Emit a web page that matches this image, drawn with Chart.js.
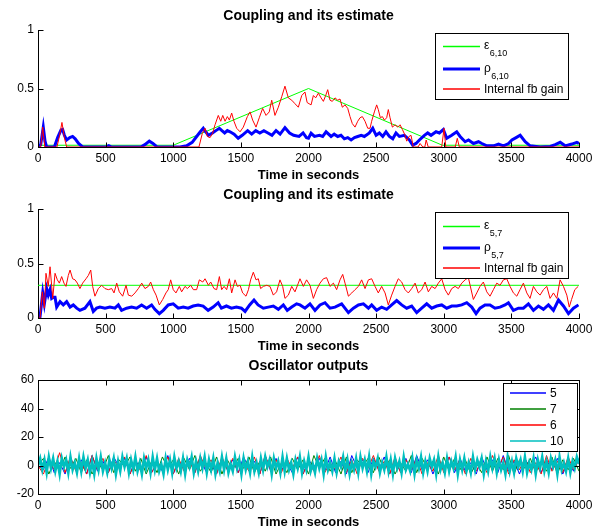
<!DOCTYPE html>
<html>
<head>
<meta charset="utf-8">
<script src="https://cdn.jsdelivr.net/npm/chart.js@4/dist/chart.umd.min.js"></script>
<style>
body { margin:0; background:#fff; overflow:hidden; }
#wrap { position:relative; width:600px; height:531px; }
#wrap canvas { position:absolute; left:0; top:0; }
</style>
</head>
<body>
<div id="wrap">
<canvas id="plot1" width="600" height="531"></canvas>
<canvas id="plot2" width="600" height="531"></canvas>
<canvas id="plot3" width="600" height="531"></canvas>
</div>
<script>
// tick values
var timeTicks = [0, 500, 1000, 1500, 2000, 2500, 3000, 3500, 4000];
var couplingTicks = [0, 0.5, 1];
var outputTicks = [-20, 0, 20, 40, 60];

// plot 1 : coupling 6 -> 10, [time, value]
var eps610 = [[0,0.015],[1000,0.015],[2000,0.5],[2990,0.015],[4000,0.015]];
var rho610 = [[0,0],[20,0.02],[39,0.17],[52,0.05],[64,0],[121,0],[145,0.08],[170,0.145],[182,0.15],[195,0.1],[212,0.06],[235,0.08],[256,0.09],[275,0.07],[300,0.03],[330,0],[500,0],[523,0.012],[545,0],[760,0],[790,0.02],[823,0.05],[850,0.03],[880,0],[1050,0],[1099,0.01],[1140,0.04],[1173,0.09],[1200,0.13],[1222,0.16],[1240,0.13],[1260,0.10],[1290,0.12],[1315,0.14],[1341,0.16],[1360,0.14],[1380,0.12],[1400,0.14],[1420,0.13],[1450,0.11],[1480,0.075],[1510,0.10],[1550,0.14],[1580,0.11],[1610,0.14],[1640,0.12],[1670,0.14],[1700,0.12],[1730,0.10],[1760,0.14],[1790,0.11],[1826,0.165],[1860,0.12],[1890,0.10],[1930,0.09],[1960,0.12],[1985,0.08],[2000,0.075],[2019,0.117],[2044,0.09],[2081,0.10],[2105,0.09],[2130,0.13],[2167,0.09],[2190,0.11],[2216,0.09],[2240,0.1],[2265,0.07],[2290,0.08],[2315,0.06],[2340,0.08],[2364,0.09],[2390,0.1],[2413,0.09],[2450,0.12],[2475,0.16],[2500,0.10],[2524,0.12],[2549,0.09],[2573,0.13],[2598,0.09],[2623,0.07],[2647,0.12],[2672,0.09],[2709,0.10],[2746,0.06],[2770,0.017],[2795,0.03],[2820,0.06],[2857,0.10],[2881,0.12],[2906,0.10],[2943,0.13],[2968,0.12],[2997,0.15],[3022,0.074],[3059,0.10],[3096,0.13],[3121,0.09],[3158,0.045],[3183,0.06],[3220,0.03],[3257,0.045],[3282,0.03],[3319,0.01],[3368,0.01],[3405,0.025],[3442,0.01],[3479,0.03],[3504,0.06],[3535,0.08],[3565,0.10],[3602,0.045],[3639,0.01],[3713,0],[3787,0.005],[3824,0.02],[3861,0.04],[3898,0.01],[3947,0.025],[3984,0.04],[4000,0.03]];
var gain610 = [[0,0],[20,0],[35,0.17],[50,0],[140,0],[160,0.1],[177,0.21],[195,0.08],[212,0],[1190,0],[1215,0.117],[1235,0.16],[1252,0.09],[1272,0.08],[1291,0.117],[1309,0.19],[1333,0.27],[1351,0.22],[1366,0.27],[1383,0.22],[1400,0.26],[1415,0.23],[1432,0.29],[1449,0.22],[1469,0.16],[1494,0.13],[1518,0.17],[1548,0.26],[1568,0.30],[1587,0.23],[1612,0.17],[1636,0.25],[1661,0.33],[1686,0.27],[1710,0.30],[1728,0.40],[1752,0.27],[1777,0.34],[1802,0.43],[1826,0.52],[1851,0.42],[1876,0.40],[1900,0.37],[1925,0.34],[1950,0.44],[1974,0.47],[1990,0.38],[2004,0.37],[2019,0.36],[2036,0.44],[2053,0.42],[2073,0.46],[2093,0.42],[2110,0.39],[2127,0.44],[2142,0.49],[2159,0.40],[2176,0.39],[2196,0.42],[2216,0.40],[2233,0.41],[2250,0.34],[2270,0.36],[2290,0.33],[2307,0.26],[2324,0.20],[2344,0.17],[2364,0.22],[2381,0.25],[2398,0.26],[2418,0.22],[2438,0.16],[2455,0.16],[2467,0.22],[2487,0.30],[2504,0.36],[2516,0.32],[2531,0.25],[2546,0.26],[2561,0.23],[2578,0.25],[2590,0.32],[2603,0.25],[2620,0.17],[2640,0.19],[2660,0.17],[2677,0.19],[2694,0.15],[2714,0.10],[2726,0.05],[2743,0.09],[2758,0.10],[2775,0],[2810,0],[2825,0.03],[2845,0],[2860,0],[2870,0.06],[2885,0],[2985,0],[3002,0.16],[3015,0],[3085,0],[3100,0.074],[3115,0],[4000,0]];

// plot 2 : coupling 5 -> 7
var eps57 = [[0,0.3],[4000,0.3]];
var rho57 = [[0,0],[15,0.01],[35,0.23],[47,0.13],[64,0.27],[76,0.21],[89,0.26],[101,0.18],[113,0.19],[126,0.19],[138,0.10],[163,0.15],[187,0.12],[212,0.15],[237,0.10],[261,0.12],[286,0.09],[310,0.07],[347,0.09],[384,0.15],[409,0.06],[433,0.09],[458,0.10],[495,0.09],[532,0.10],[569,0.09],[594,0.12],[618,0.07],[655,0.09],[692,0.10],[729,0.09],[766,0.12],[803,0.09],[840,0.12],[864,0.08],[897,0.04],[926,0.07],[963,0.12],[1000,0.13],[1037,0.09],[1074,0.10],[1110,0.09],[1147,0.11],[1184,0.12],[1221,0.11],[1258,0.07],[1295,0.10],[1332,0.14],[1356,0.09],[1393,0.11],[1430,0.09],[1467,0.10],[1504,0.09],[1531,0.06],[1565,0.12],[1597,0.165],[1627,0.12],[1666,0.09],[1703,0.10],[1740,0.11],[1777,0.08],[1814,0.12],[1843,0.07],[1876,0.10],[1912,0.13],[1937,0.12],[1974,0.09],[2011,0.13],[2048,0.07],[2085,0.12],[2122,0.14],[2159,0.09],[2196,0.10],[2245,0.13],[2295,0.05],[2332,0.09],[2369,0.12],[2406,0.13],[2443,0.09],[2467,0.12],[2504,0.07],[2541,0.10],[2578,0.08],[2615,0.12],[2652,0.16],[2689,0.12],[2726,0.09],[2763,0.11],[2800,0.05],[2837,0.09],[2874,0.13],[2911,0.09],[2948,0.11],[2985,0.12],[3022,0.09],[3059,0.11],[3096,0.11],[3133,0.12],[3170,0.14],[3207,0.10],[3239,0.04],[3268,0.09],[3305,0.12],[3342,0.12],[3379,0.09],[3416,0.10],[3453,0.12],[3478,0.14],[3515,0.07],[3552,0.09],[3589,0.09],[3626,0.13],[3663,0.07],[3700,0.11],[3737,0.08],[3774,0.12],[3811,0.07],[3848,0.165],[3885,0.11],[3922,0.04],[3959,0.09],[3996,0.12]];
var gain57 = [[0,0],[15,0],[32,0.24],[47,0.09],[59,0.41],[76,0.29],[89,0.47],[109,0.18],[126,0.41],[143,0.35],[158,0.32],[175,0.38],[192,0.32],[207,0.29],[224,0.39],[237,0.44],[256,0.36],[274,0.35],[291,0.32],[310,0.27],[330,0.32],[355,0.36],[372,0.39],[390,0.44],[404,0.29],[421,0.20],[446,0.27],[471,0.30],[495,0.27],[520,0.26],[545,0.27],[562,0.23],[582,0.32],[601,0.24],[626,0.20],[651,0.30],[668,0.21],[693,0.20],[717,0.23],[742,0.27],[767,0.32],[791,0.27],[816,0.29],[833,0.33],[853,0.26],[873,0.21],[897,0.12],[922,0.17],[946,0.23],[963,0.26],[981,0.35],[1000,0.26],[1020,0.23],[1045,0.29],[1062,0.24],[1087,0.29],[1104,0.27],[1129,0.30],[1149,0.26],[1173,0.26],[1193,0.35],[1218,0.33],[1235,0.36],[1260,0.30],[1277,0.33],[1301,0.27],[1321,0.26],[1341,0.38],[1358,0.26],[1376,0.29],[1395,0.26],[1415,0.36],[1432,0.23],[1457,0.35],[1474,0.29],[1494,0.30],[1513,0.23],[1538,0.20],[1556,0.26],[1572,0.35],[1592,0.42],[1612,0.35],[1629,0.36],[1646,0.27],[1666,0.29],[1691,0.30],[1715,0.29],[1740,0.21],[1764,0.24],[1789,0.35],[1809,0.29],[1826,0.18],[1851,0.21],[1876,0.29],[1900,0.24],[1925,0.32],[1937,0.36],[1962,0.29],[1986,0.35],[2011,0.30],[2036,0.18],[2060,0.26],[2085,0.32],[2110,0.36],[2134,0.37],[2159,0.29],[2184,0.32],[2208,0.26],[2233,0.35],[2253,0.40],[2270,0.32],[2295,0.20],[2320,0.23],[2344,0.26],[2369,0.29],[2393,0.35],[2418,0.27],[2443,0.35],[2467,0.36],[2492,0.29],[2516,0.23],[2541,0.29],[2566,0.23],[2590,0.12],[2615,0.21],[2640,0.29],[2664,0.36],[2689,0.33],[2714,0.26],[2738,0.23],[2763,0.27],[2788,0.32],[2812,0.23],[2837,0.26],[2862,0.33],[2886,0.24],[2911,0.29],[2936,0.27],[2960,0.32],[2985,0.36],[3010,0.26],[3034,0.21],[3059,0.27],[3084,0.29],[3108,0.27],[3133,0.32],[3158,0.35],[3182,0.37],[3195,0.30],[3219,0.17],[3244,0.23],[3268,0.29],[3293,0.33],[3318,0.24],[3342,0.20],[3367,0.26],[3392,0.32],[3416,0.30],[3441,0.35],[3466,0.36],[3490,0.29],[3515,0.23],[3540,0.20],[3564,0.26],[3589,0.32],[3614,0.23],[3638,0.18],[3663,0.29],[3688,0.24],[3712,0.21],[3737,0.26],[3762,0.29],[3786,0.18],[3811,0.23],[3836,0.18],[3860,0.35],[3885,0.29],[3910,0.21],[3928,0.10],[3945,0.17],[3969,0.26],[3994,0.29]];

// plot 3 : oscillator outputs, one sample every oscStep seconds (osc10 every osc10Step)
var oscStep = 40;
var osc10Step = 16;
var osc5 = [0,-3,6,-5,2,-6,5,-2,4,-6,7,-4,3,-5,6,-1,5,-6,4,-3,
  6,-5,2,-4,7,-6,3,-2,5,-5,6,-4,1,-6,5,-3,4,-5,6,-2,
  3,-6,7,-4,5,-3,2,-5,6,-6,4,-1,5,-4,6,-5,3,-6,7,-2,
  4,-5,5,-3,6,-6,2,-4,5,-5,7,-3,4,-6,3,-2,6,-5,5,-4,
  2,-6,6,-3,4,-5,7,-4,3,-6,5,-2,6,-5,4,-3,5,-6,3,-4,5];
var osc7 = [0,5,-6,3,-4,6,-2,5,-5,4,-6,2,-3,7,-5,4,-1,6,-4,5,
  -6,3,-5,6,-2,4,-6,5,-3,7,-4,2,-5,6,-6,4,-3,5,-2,6,
  -5,3,-4,6,-6,2,-5,5,-3,4,-6,7,-2,5,-4,3,-6,6,-5,4,
  -1,5,-5,6,-3,4,-6,2,-4,7,-5,5,-2,3,-6,6,-4,5,-3,4,
  -6,2,-5,6,-4,5,-3,7,-6,4,-2,5,-5,3,-4,6,-6,4,-3,5,-4];
var osc6 = [0,-6,4,-3,9,-5,6,-4,2,-6,7,-3,5,-5,4,-2,6,-6,3,-4,
  7,-5,2,-3,6,-6,5,-4,3,-5,7,-2,4,-6,6,-3,5,-5,2,-4,
  6,-6,7,-3,4,-5,5,-2,6,-6,3,-4,7,-5,2,-3,6,-5,4,-6,
  5,-2,7,-4,3,-6,6,-5,4,-3,5,-6,2,-4,7,-5,6,-3,4,-6,
  5,-4,3,-5,7,-2,6,-6,4,-3,5,-5,2,-6,7,-4,3,-5,6,-3,4];
var osc10 = [0,5,-3,4,-5,6,-2,5,-4,3,-6,5,-1,4,-5,6,-3,2,-5,5,-4,6,-2,4,-5,
  3,-6,5,-3,6,-4,2,-5,4,-2,5,-6,3,-4,6,-1,5,-5,4,-3,6,-4,2,-6,5,
  -2,4,-5,6,-3,5,-4,1,-6,5,-3,4,-5,6,-2,3,-4,5,-6,4,-1,6,-5,3,-4,
  5,-2,6,-5,4,-3,5,-6,2,-4,6,-3,5,-5,1,-4,6,-2,4,-6,5,-3,3,-5,6,
  -4,2,-5,5,-3,6,-1,4,-6,5,-2,3,-5,6,-4,5,-3,2,-6,4,-2,6,-5,3,-3,
  6,-4,1,-5,5,-2,4,-6,6,-3,2,-4,5,-5,3,-1,6,-4,4,-6,2,-3,5,-5,6,
  -2,4,-4,6,-6,3,-1,5,-5,2,-3,6,-4,4,-6,5,-2,3,-5,6,-3,1,-4,5,-6,
  4,-2,6,-5,3,-4,5,-1,4,-6,6,-3,2,-5,5,-4,3,-2,6,-6,4,-3,5,-4,2,
  -5,6,-3,4,-1,5,-6,3,-4,6,-2,5,-5,4,-3,2,-6,6,-4,3,-5,5,-1,4,-4,
  6,-5,2,-3,5,-6,4,-2,6,-4,3,-5,5,-1,4,-6,6,-3,2,-4,5,-5,3,-2,6,1];

var FONT = '"Liberation Sans", Arial, Helvetica, sans-serif';
Chart.defaults.font.family = FONT;
Chart.defaults.font.size = 12;
Chart.defaults.color = '#000';
Chart.defaults.animation = false;

function pairsToPoints(pairs) {
  return pairs.map(function(p) { return {x: p[0], y: p[1]}; });
}
function seriesToPoints(values, step) {
  return values.map(function(v, i) { return {x: i * step, y: v}; });
}

// draws ticks pointing inward, the box, the title and the legend like matlab does
var matlabAxes = {
  id: 'matlabAxes',
  afterDraw: function(chart, args, opts) {
    var ctx = chart.ctx;
    var area = chart.chartArea;
    var xs = chart.scales.x, ys = chart.scales.y;
    ctx.save();
    ctx.strokeStyle = '#000';
    ctx.lineWidth = 1;
    ctx.beginPath();
    xs.ticks.forEach(function(t) {
      var px = Math.round(xs.getPixelForValue(t.value)) + 0.5;
      ctx.moveTo(px, area.bottom + 0.5); ctx.lineTo(px, area.bottom - 4.5);
      if (opts.box) { ctx.moveTo(px, area.top + 0.5); ctx.lineTo(px, area.top + 5.5); }
    });
    ys.ticks.forEach(function(t) {
      var py = Math.round(ys.getPixelForValue(t.value)) + 0.5;
      ctx.moveTo(area.left + 0.5, py); ctx.lineTo(area.left + 5.5, py);
      if (opts.box) { ctx.moveTo(area.right + 0.5, py); ctx.lineTo(area.right - 4.5, py); }
    });
    if (opts.box) {
      ctx.rect(Math.round(area.left) + 0.5, Math.round(area.top) + 0.5,
        Math.round(area.right - area.left), Math.round(area.bottom - area.top));
    }
    ctx.stroke();

    // title
    ctx.fillStyle = '#000';
    ctx.font = 'bold 14px ' + FONT;
    ctx.textAlign = 'center';
    ctx.textBaseline = 'alphabetic';
    ctx.fillText(opts.title, (area.left + area.right) / 2, area.top - 10.5);

    // legend
    var lg = opts.legend;
    ctx.fillStyle = '#fff';
    ctx.fillRect(lg.x, lg.y, lg.w, lg.h);
    ctx.strokeStyle = '#000';
    ctx.lineWidth = 1;
    ctx.strokeRect(lg.x + 0.5, lg.y + 0.5, lg.w, lg.h);
    chart.data.datasets.forEach(function(ds, i) {
      var ly = lg.y + lg.rows[i];
      ctx.strokeStyle = ds.borderColor;
      ctx.lineWidth = ds.legendWidth || ds.borderWidth;
      ctx.beginPath();
      ctx.moveTo(lg.lineX[0], ly);
      ctx.lineTo(lg.lineX[1], ly);
      ctx.stroke();
      ctx.fillStyle = '#000';
      ctx.textAlign = 'left';
      if (ds.sub) {
        ctx.font = '12px ' + FONT;
        ctx.textBaseline = 'alphabetic';
        ctx.fillText(ds.label, lg.textX, ly + 2.5);
        var w = ctx.measureText(ds.label).width;
        ctx.font = '9px ' + FONT;
        ctx.fillText(ds.sub, lg.textX + w + 0.5, ly + 9.5);
      } else {
        ctx.font = '12px ' + FONT;
        ctx.textBaseline = 'middle';
        ctx.fillText(ds.label, lg.textX, ly + 0.5);
      }
    });
    ctx.restore();
  }
};

function timeAxis() {
  return {
    type: 'linear', min: 0, max: 4000,
    grid: {display: false, drawTicks: false},
    border: {display: true, color: '#000', width: 1},
    ticks: {padding: 4, color: '#000', font: {size: 12}, callback: function(v) { return String(v); }},
    afterBuildTicks: function(s) { s.ticks = timeTicks.map(function(v) { return {value: v}; }); },
    afterFit: function(s) { s.height = 37; },
    title: {display: true, text: 'Time in seconds', color: '#000', font: {size: 13, weight: 'bold'}, padding: {top: 0, bottom: 1}}
  };
}

function valueAxis(tickList) {
  return {
    type: 'linear', min: tickList[0], max: tickList[tickList.length - 1],
    grid: {display: false, drawTicks: false},
    border: {display: true, color: '#000', width: 1},
    ticks: {padding: 4, color: '#000', font: {size: 12}, callback: function(v) { return String(v); }},
    afterBuildTicks: function(s) { s.ticks = tickList.map(function(v) { return {value: v}; }); },
    afterFit: function(s) { s.width = 38; }
  };
}

function line(label, sub, data, color, width, order, legendWidth) {
  return {label: label, sub: sub, data: data, borderColor: color, borderWidth: width,
    legendWidth: legendWidth, pointRadius: 0, tension: 0, fill: false, order: order};
}

function makeChart(id, datasets, yTicks, pad, opts) {
  return new Chart(document.getElementById(id), {
    type: 'line',
    data: {datasets: datasets},
    options: {
      responsive: false,
      animation: false,
      layout: {padding: {top: pad.top, bottom: pad.bottom, left: 0, right: 21}},
      scales: {x: timeAxis(), y: valueAxis(yTicks)},
      plugins: {legend: {display: false}, tooltip: {enabled: false}, matlabAxes: opts}
    },
    plugins: [matlabAxes]
  });
}

window.onload = function() {
  makeChart('plot1', [
    line('\u03b5', '6,10', pairsToPoints(eps610), '#00ff00', 1, 2, 1.5),
    line('\u03c1', '6,10', pairsToPoints(rho610), '#0000ff', 3, 1),
    line('Internal fb gain', null, pairsToPoints(gain610), '#ff0000', 1, 0, 1.5)
  ], couplingTicks, {top: 30, bottom: 347}, {
    title: 'Coupling and its estimate', box: false,
    legend: {x: 435, y: 33, w: 133, h: 66, rows: [13.5, 36, 56], lineX: [443, 480], textX: 484}
  });

  makeChart('plot2', [
    line('\u03b5', '5,7', pairsToPoints(eps57), '#00ff00', 1, 2, 1.5),
    line('\u03c1', '5,7', pairsToPoints(rho57), '#0000ff', 3, 1),
    line('Internal fb gain', null, pairsToPoints(gain57), '#ff0000', 1, 0, 1.5)
  ], couplingTicks, {top: 209, bottom: 176}, {
    title: 'Coupling and its estimate', box: false,
    legend: {x: 435, y: 212, w: 133, h: 66, rows: [14.5, 36, 56], lineX: [443, 480], textX: 484}
  });

  makeChart('plot3', [
    line('5', null, seriesToPoints(osc5, oscStep), '#0000ff', 1, 3, 1.5),
    line('7', null, seriesToPoints(osc7, oscStep), '#008000', 1, 2, 1.5),
    line('6', null, seriesToPoints(osc6, oscStep), '#ff0000', 1, 1, 1.5),
    line('10', null, seriesToPoints(osc10, osc10Step), '#00bfbf', 2.6, 0, 1.5)
  ], outputTicks, {top: 380, bottom: 0}, {
    title: 'Oscillator outputs', box: true,
    legend: {x: 503, y: 383, w: 74, h: 68, rows: [10, 26, 42, 58], lineX: [510, 546], textX: 550}
  });
};
</script>
</body>
</html>
